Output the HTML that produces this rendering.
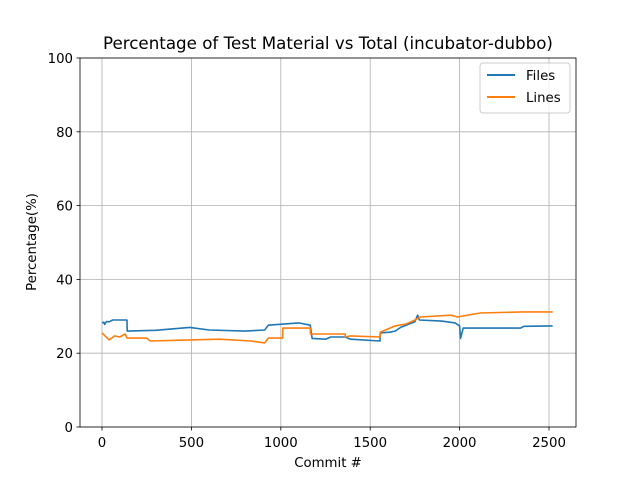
<!DOCTYPE html>
<html><head><meta charset="utf-8"><style>
body{margin:0;background:#fff;}
svg text{font-family:"DejaVu Sans","Liberation Sans",sans-serif;fill:#000;}
</style></head><body>
<svg id="chart" width="640" height="480" xmlns="http://www.w3.org/2000/svg">
<rect width="640" height="480" fill="#fff"/>
<text x="328" y="49" font-size="16.7" text-anchor="middle">Percentage of Test Material vs Total (incubator-dubbo)</text>
<g id="grid"></g>
<g id="series"></g>
<rect x="80" y="58" width="496" height="369" fill="none" stroke="#000" stroke-width="0.8"/>
<g id="ticks"></g>
<text x="328" y="467" font-size="13.3" text-anchor="middle">Commit #</text>
<text transform="translate(36,242) rotate(-90)" font-size="13.3" text-anchor="middle">Percentage(%)</text>
<g>
<rect x="480" y="63" width="90" height="50" rx="3" fill="#fff" fill-opacity="0.8" stroke="#ccc"/>
<line x1="487" y1="75" x2="515" y2="75" stroke="#1f77b4" stroke-width="2"/>
<text x="526" y="80" font-size="13.3">Files</text>
<line x1="487" y1="97" x2="515" y2="97" stroke="#ff7f0e" stroke-width="2"/>
<text x="526" y="102" font-size="13.3">Lines</text>
</g>
</svg>
<script>
const xTicks=[0,500,1000,1500,2000,2500];
const yTicks=[0,20,40,60,80,100];
const filesCommits=[0,10,15,25,40,60,140,141,300,490,600,800,910,930,1100,1165,1175,1250,1280,1360,1390,1555,1556,1610,1640,1670,1750,1765,1775,1900,1975,2000,2005,2020,2340,2360,2520];
const filesValues=[28.2,28.4,27.8,28.6,28.5,29,29,26,26.2,27,26.3,26,26.3,27.6,28.2,27.6,24,23.8,24.4,24.4,23.8,23.3,25.5,25.7,26,27,28.5,30.3,29,28.7,28.2,27.4,24,26.8,26.8,27.3,27.4];
const linesCommits=[0,40,70,100,130,140,250,270,490,660,830,910,930,1010,1011,1030,1036,1040,1165,1166,1360,1361,1390,1555,1556,1640,1700,1750,1780,1950,1990,2020,2115,2350,2520];
const linesValues=[25.5,23.6,24.7,24.4,25.2,24.1,24.1,23.3,23.6,23.8,23.3,22.8,24.1,24.1,26.8,26.8,26.8,26.8,26.8,25.2,25.2,24.4,24.7,24.4,25.7,27.4,27.9,29,29.8,30.3,29.8,30.1,30.9,31.2,31.2];
const X=v=>102+v*(447/2500), Y=v=>427-v*3.69;
const NS="http://www.w3.org/2000/svg";
const grid=document.getElementById('grid'),ticks=document.getElementById('ticks'),ser=document.getElementById('series');
function mk(tag,attrs,parent){const e=document.createElementNS(NS,tag);for(const k in attrs)e.setAttribute(k,attrs[k]);parent.appendChild(e);return e;}
xTicks.forEach(t=>{
 const g=mk('line',{x1:X(t),x2:X(t),y1:58,y2:427,stroke:'#b0b0b0','stroke-width':0.8},grid);
 
 
 mk('line',{x1:X(t),x2:X(t),y1:427,y2:430.5,stroke:'#000','stroke-width':0.8},ticks);
 const tx=mk('text',{x:X(t),y:447,'font-size':13.3,'text-anchor':'middle'},ticks);tx.textContent=t;
 
 
});
yTicks.forEach(t=>{
 const g=mk('line',{x1:80,x2:576,y1:Y(t),y2:Y(t),stroke:'#b0b0b0','stroke-width':0.8},grid);
 
 
 mk('line',{x1:76.5,x2:80,y1:Y(t),y2:Y(t),stroke:'#000','stroke-width':0.8},ticks);
 const tx=mk('text',{x:73,y:Y(t)+5,'font-size':13.3,'text-anchor':'end'},ticks);tx.textContent=t;
 
 
});
function line(cs,vs,color,name){
 const d=cs.map((c,i)=>(i?'L':'M')+X(c).toFixed(1)+','+Y(vs[i]).toFixed(1)).join('');
 const p=mk('path',{d:d,fill:'none',stroke:color,'stroke-width':1.6,'stroke-linejoin':'round'},ser);
 
 
}
line(filesCommits,filesValues,'#1f77b4','files-line');
line(linesCommits,linesValues,'#ff7f0e','lines-line');
</script>
</body></html>
